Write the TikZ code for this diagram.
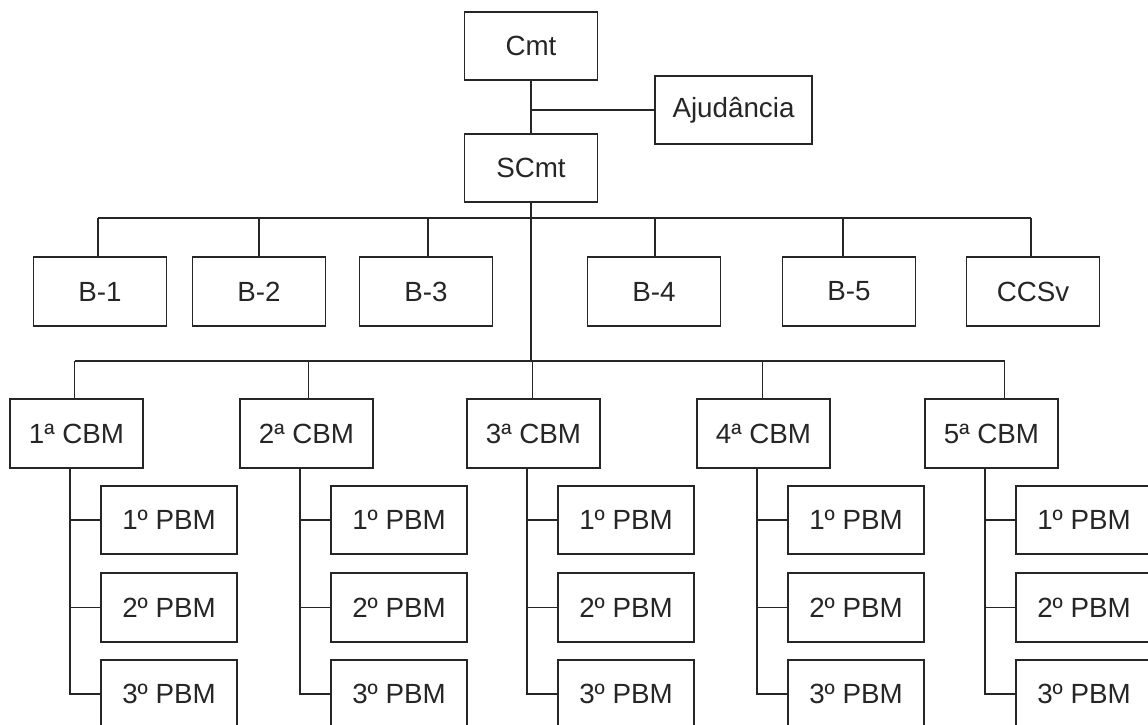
\documentclass[tikz,border=0pt]{standalone}
\usepackage{fontspec}
\setmainfont{Liberation Sans}
\definecolor{ink}{HTML}{262626}

\begin{document}
\begin{tikzpicture}[x=0.02cm,y=-0.02cm,
  box/.style={draw=ink,line width=1pt,text=ink,inner sep=0pt,
    minimum width=2.66cm,minimum height=1.37cm,
    font=\fontsize{15.8}{18}\selectfont},
  wire/.style={draw=ink,line width=1pt}]
  % Page in pixel units: 1148 x 724.
  \useasboundingbox (0,0) rectangle (1148,724);
  \clip (0,0) rectangle (1148,724);

  % Command and staff.
  \node[box] (cmt) at (531,46) {Cmt};
  \node[box,minimum width=3.14cm] (ajd) at (733.5,110) {Ajudância};
  \node[box] (scmt) at (531,168) {SCmt};
  \draw[wire] (cmt) -- (scmt);
  \draw[wire] (ajd.west) -- (ajd.west -| cmt.south);

  % Sections.
  \coordinate (busB) at (531,218);
  \foreach \name/\txt/\x/\dx in {b1/B-1/100/-2,b2/B-2/259/0,b3/B-3/426/2,
      b4/B-4/654/1,b5/B-5/849/-6,ccsv/CCSv/1033/-2}{
    \node[box] (\name) at (\x,291.5) {\txt};
    \coordinate (t\name) at ([xshift=\dx*0.02cm]\name.north);
    \draw[wire] (t\name) -- (t\name |- busB);
  }
  \draw[wire] (tb1 |- busB) -- (tccsv |- busB);

  % Companies and their platoons.
  \coordinate (busC) at (531,361);
  \draw[wire] (scmt.south) -- (scmt.south |- busC);
  \foreach \n/\x/\dx in {1/76.5/-2,2/306.5/2,3/533.5/-1,4/763.5/-1,5/991.5/13}{
    \node[box] (c\n) at (\x,433.5) {\n{}ª CBM};
    \coordinate (t\n) at ([xshift=\dx*0.02cm]c\n.north);
    \draw[wire] (t\n) -- (t\n |- busC);

    \foreach \m/\y in {1/520,2/607.5,3/694}{
      \node[box,minimum width=2.72cm] (p\n\m) at (\x+92.5,\y) {\m{}º PBM};
    }
    \coordinate (s\n) at ([xshift=-0.13cm]c\n.south);
    \draw[wire] (s\n) |- (p\n3.west);
    \draw[wire] (p\n1.west) -- (p\n1.west -| s\n);
    \draw[wire] (p\n2.west) -- (p\n2.west -| s\n);
  }
  \draw[wire] (t1 |- busC) -- (t5 |- busC);
\end{tikzpicture}
\end{document}
